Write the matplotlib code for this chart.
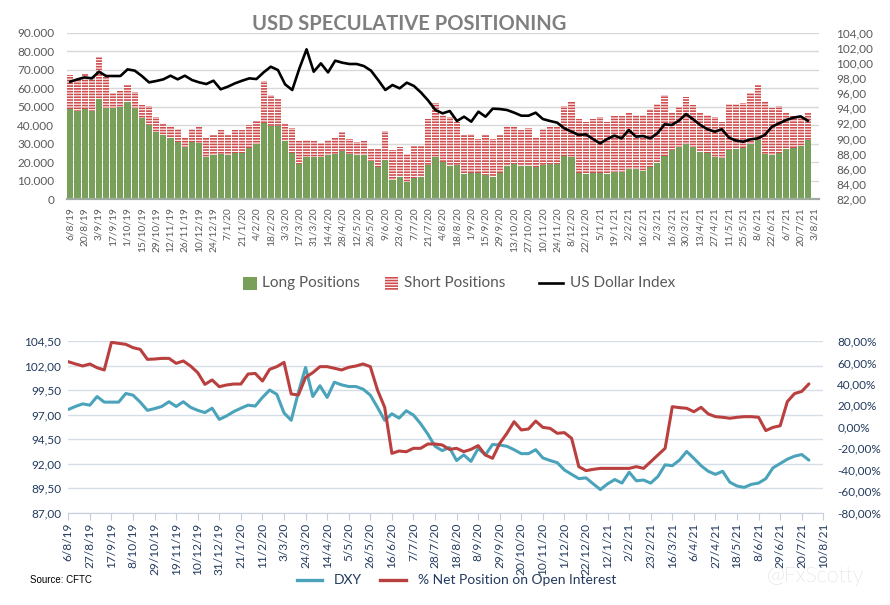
import matplotlib
matplotlib.use('Agg')
import matplotlib.pyplot as plt
import numpy as np
import pandas as pd
from matplotlib.ticker import FuncFormatter, FixedLocator
from matplotlib.lines import Line2D
from matplotlib.patches import Rectangle

plt.rcParams['font.family'] = ['Lato', 'DejaVu Sans']
plt.rcParams['hatch.linewidth'] = 0.8

W, H = 890, 605

# ---------------- data (weekly, Tuesday COT reports) ----------------
start_date = '2019-08-06'
n_weeks = 104

long_pos = [48.5, 47.8, 48.5, 47.8, 53.9, 49.1, 49.1, 50.0, 52.7, 49.1,
            43.6, 40.0, 36.4, 34.6, 32.8, 31.0, 28.3, 31.0, 30.1, 22.9,
            23.8, 24.4, 23.8, 24.7, 24.7, 27.4, 29.8, 40.9, 39.5, 39.5,
            31.6, 24.7, 18.9, 22.5, 22.5, 22.5, 23.8, 24.4, 26.2, 24.4,
            23.8, 23.8, 20.7, 17.5, 21.1, 10.3, 11.7, 9.4, 11.2, 11.7,
            18.4, 22.5, 19.8, 18.0, 18.4, 13.3, 13.9, 13.9, 13.0, 11.7,
            14.2, 17.9, 18.9, 17.9, 17.9, 17.1, 18.4, 18.9, 18.9, 23.3,
            22.9, 13.9, 13.5, 13.9, 14.2, 13.5, 14.8, 14.8, 16.1, 16.1,
            15.3, 17.5, 19.7, 23.3, 26.5, 28.0, 29.8, 28.3, 25.6, 24.7,
            22.9, 22.0, 26.5, 26.9, 27.4, 29.8, 31.9, 24.4, 23.8, 24.7,
            26.9, 27.4, 28.7, 31.9]
short_pos = [18.6, 17.0, 19.5, 18.0, 23.1, 17.1, 8.4, 8.6, 9.0, 8.8,
             7.3, 10.3, 8.2, 6.3, 6.7, 6.9, 5.4, 6.9, 9.0, 10.8,
             10.8, 12.9, 10.8, 12.6, 12.6, 12.6, 12.4, 23.1, 16.8, 14.6,
             9.3, 13.5, 12.7, 9.4, 9.1, 7.6, 8.1, 9.0, 9.9, 8.1,
             6.9, 7.6, 6.4, 9.6, 15.9, 16.2, 16.3, 15.0, 17.5, 17.0,
             24.9, 29.3, 25.7, 26.6, 23.4, 21.3, 21.3, 18.6, 21.6, 20.8,
             20.4, 21.6, 20.6, 19.4, 20.3, 16.4, 19.3, 20.6, 20.6, 27.0,
             29.4, 29.4, 28.0, 29.4, 30.0, 28.0, 30.1, 30.1, 30.6, 29.4,
             30.2, 31.2, 31.7, 33.0, 20.4, 21.6, 25.2, 22.6, 21.3, 20.8,
             21.3, 19.5, 24.9, 24.5, 24.7, 27.4, 29.8, 28.6, 25.3, 25.6,
             20.4, 17.5, 15.3, 14.8]
dxy = [97.52, 97.83, 98.09, 97.96, 98.84, 98.27, 98.27, 98.27, 99.15, 98.98,
       98.27, 97.43, 97.61, 97.83, 98.31, 97.83, 98.31, 97.74, 97.43, 97.21,
       97.65, 96.51, 96.86, 97.30, 97.65, 97.96, 97.87, 98.75, 99.50, 99.06,
       97.17, 96.42, 99.28, 101.80, 98.84, 99.94, 98.75, 100.30, 100.03, 99.86,
       99.86, 99.59, 98.98, 97.74, 96.42, 97.08, 96.64, 97.39, 96.95, 96.07,
       95.01, 93.77, 93.33, 93.64, 92.32, 92.89, 92.23, 93.55, 92.89, 93.95,
       93.90, 93.77, 93.42, 93.02, 93.02, 93.42, 92.58, 92.32, 92.10, 91.35,
       90.91, 90.47, 90.55, 89.94, 89.36, 89.94, 90.38, 90.02, 91.13, 90.25,
       90.33, 90.02, 90.69, 91.88, 91.79, 92.36, 93.24, 92.54, 91.79, 91.22,
       90.91, 91.22, 90.11, 89.72, 89.58, 89.89, 90.02, 90.47, 91.57, 92.01,
       92.45, 92.76, 92.93, 92.36]
net_pct = [60.7, 58.6, 56.7, 58.6, 55.1, 53.0, 78.8, 77.8, 76.9, 73.8,
           72.2, 62.9, 63.2, 63.8, 63.8, 59.2, 61.4, 56.7, 50.5, 39.6,
           43.7, 37.4, 39.0, 39.9, 39.9, 49.2, 49.8, 42.7, 53.6, 56.1,
           60.1, 30.6, 29.7, 46.1, 50.5, 56.1, 56.1, 54.6, 53.0, 55.5,
           56.7, 58.6, 56.1, 34.3, 18.2, -24.7, -22.5, -23.2, -20.0, -20.0,
           -16.0, -16.0, -16.9, -21.0, -20.0, -23.1, -21.0, -17.5, -26.2, -29.3,
           -15.4, -6.0, 4.8, -2.9, -2.0, 5.4, -0.5, -1.4, -6.0, -5.4,
           -10.7, -37.1, -40.8, -39.6, -38.7, -38.7, -38.7, -38.7, -38.7, -37.1,
           -38.7, -32.5, -26.2, -20.0, 18.8, 17.9, 17.3, 14.1, 18.2, 12.0,
           9.5, 8.9, 8.0, 8.9, 9.5, 9.5, 8.9, -3.5, -0.5, 1.0,
           23.5, 31.0, 33.0, 40.0]

top_tick_step = 2      # weeks between top x labels
bot_tick_step = 3      # weeks between bottom x labels

# ---------------- styling ----------------
GREEN = '#78a05a'
RED_BAR = '#d04c4c'
GRAY_TXT = '#595959'
TEAL = '#4aa3bb'
RED_LINE = '#b9403f'
NAVY = '#233a5e'

dates = pd.date_range(start_date, periods=n_weeks + 2, freq='7D')
def dlabel(d):
    return f"{d.day}/{d.month}/{d.strftime('%y')}"

x = np.arange(n_weeks)
long_arr = np.array(long_pos) * 1000
short_arr = np.array(short_pos) * 1000

fig = plt.figure(figsize=(W / 100, H / 100), dpi=100)

def fx(px):
    return px / W
def fy(py):
    return 1 - py / H

# ---------------- top chart ----------------
axL = fig.add_axes([fx(66.7), fy(199), fx(818.5) - fx(66.7), fy(32.7) - fy(199)])
axL.bar(x, long_arr, width=0.86, color=GREEN, linewidth=0, zorder=2)
axL.bar(x, short_arr, bottom=long_arr, width=0.86, color=RED_BAR,
        edgecolor='white', hatch='------', linewidth=0, zorder=2)
axL.set_xlim(-0.5, n_weeks + 0.5)
axL.set_ylim(0, 90000)
axL.yaxis.set_major_locator(FixedLocator(np.arange(0, 90001, 10000)))
axL.yaxis.set_major_formatter(FuncFormatter(
    lambda v, p: '0' if v == 0 else f"{int(v):,}".replace(',', '.')))
axL.grid(axis='y', color='#d9d9d9', linewidth=1.0, zorder=0)
axL.set_axisbelow(True)
top_ticks = list(range(0, n_weeks + 1, top_tick_step))
axL.set_xticks(top_ticks)
axL.set_xticklabels([dlabel(dates[i]) for i in top_ticks], rotation=90,
                    fontsize=7.3, color=GRAY_TXT)
axL.tick_params(axis='x', length=0, pad=6)
axL.tick_params(axis='y', length=0, pad=9, labelsize=8.5, labelcolor=GRAY_TXT)
for s in ['top', 'left', 'right']:
    axL.spines[s].set_visible(False)
axL.spines['bottom'].set_color('#a0aba0')
axL.spines['bottom'].set_linewidth(1.6)
axL.spines['bottom'].set_zorder(3)

axR = axL.twinx()
axR.plot(x, dxy, color='black', linewidth=1.9, zorder=4)
axR.set_ylim(82, 104)
axR.yaxis.set_major_locator(FixedLocator(np.arange(82, 104.1, 2)))
axR.yaxis.set_major_formatter(FuncFormatter(lambda v, p: f"{v:.2f}".replace('.', ',')))
axR.tick_params(axis='y', length=0, pad=13, labelsize=8.5, labelcolor=GRAY_TXT)
for s in ['top', 'left', 'right', 'bottom']:
    axR.spines[s].set_visible(False)

fig.text(fx(409), fy(24), 'USD SPECULATIVE POSITIONING', ha='center', va='center',
         fontsize=14.5, fontweight='bold', color='#7f7f7f')

# top legend (manual)
ly = 283
fig.add_artist(Rectangle((fx(243), fy(290)), fx(257) - fx(243), fy(277) - fy(290),
                         transform=fig.transFigure, facecolor=GREEN, edgecolor='none'))
fig.text(fx(262), fy(ly), 'Long Positions', fontsize=11, color=GRAY_TXT, va='center')
fig.add_artist(Rectangle((fx(385), fy(290)), fx(398) - fx(385), fy(277) - fy(290),
                         transform=fig.transFigure, facecolor=RED_BAR,
                         edgecolor='white', hatch='------', linewidth=0))
fig.text(fx(404), fy(ly), 'Short Positions', fontsize=11, color=GRAY_TXT, va='center')
fig.add_artist(Line2D([fx(539), fx(563)], [fy(ly), fy(ly)], transform=fig.transFigure,
                      color='black', linewidth=1.9))
fig.text(fx(570), fy(ly), 'US Dollar Index', fontsize=11, color=GRAY_TXT, va='center')

# ---------------- bottom chart ----------------
bL = fig.add_axes([fx(68.3), fy(512.7), fx(823.3) - fx(68.3), fy(341) - fy(512.7)])
bL.plot(x, dxy, color=TEAL, linewidth=2.2, zorder=3, solid_capstyle='round')
bL.set_xlim(0, n_weeks + 1)
bL.set_ylim(87, 104.5)
bL.yaxis.set_major_locator(FixedLocator(np.arange(87, 104.6, 2.5)))
bL.yaxis.set_major_formatter(FuncFormatter(lambda v, p: f"{v:.2f}".replace('.', ',')))
bL.grid(axis='y', color='#d5dde8', linewidth=1.0, zorder=0)
bL.set_axisbelow(True)
bot_ticks = list(range(0, n_weeks + 2, bot_tick_step))
bL.set_xticks(bot_ticks)
bL.set_xticklabels([dlabel(dates[i]) for i in bot_ticks], rotation=90,
                   fontsize=8.6, color=NAVY)
bL.tick_params(axis='x', length=5, width=0.8, color='#c5cfdc', pad=2)
bL.tick_params(axis='y', length=0, pad=5, labelsize=8.5, labelcolor=NAVY)
for s in ['top', 'left', 'right']:
    bL.spines[s].set_visible(False)
bL.spines['bottom'].set_color('#c5cfdc')

bR = bL.twinx()
bR.plot(x, net_pct, color=RED_LINE, linewidth=2.2, zorder=4, solid_capstyle='round')
bR.set_ylim(-80, 80)
bR.yaxis.set_major_locator(FixedLocator(np.arange(-80, 80.1, 20)))
bR.yaxis.set_major_formatter(FuncFormatter(lambda v, p: f"{v:.2f}%".replace('.', ',')))
bR.tick_params(axis='y', length=0, pad=10, labelsize=8.5, labelcolor=NAVY)
for s in ['top', 'left', 'right', 'bottom']:
    bR.spines[s].set_visible(False)

# bottom legend (manual)
by = 580
fig.add_artist(Line2D([fx(297), fx(322)], [fy(by), fy(by)], transform=fig.transFigure,
                      color=TEAL, linewidth=2.4))
fig.text(fx(334), fy(by), 'DXY', fontsize=10, color=NAVY, va='center')
fig.add_artist(Line2D([fx(380), fx(406)], [fy(by), fy(by)], transform=fig.transFigure,
                      color=RED_LINE, linewidth=2.4))
fig.text(fx(418), fy(by), '% Net Position on Open Interest', fontsize=10, color=NAVY,
         va='center')

fig.text(fx(30), fy(580), 'Source: CFTC', fontsize=7, color='black', va='center',
         family=['Liberation Sans', 'DejaVu Sans'])
fig.text(fx(766), fy(576), '@FxScotty', fontsize=15.5, color='#b8b8b8', va='center',
         fontweight='light')

fig.savefig('out.png', dpi=100)
